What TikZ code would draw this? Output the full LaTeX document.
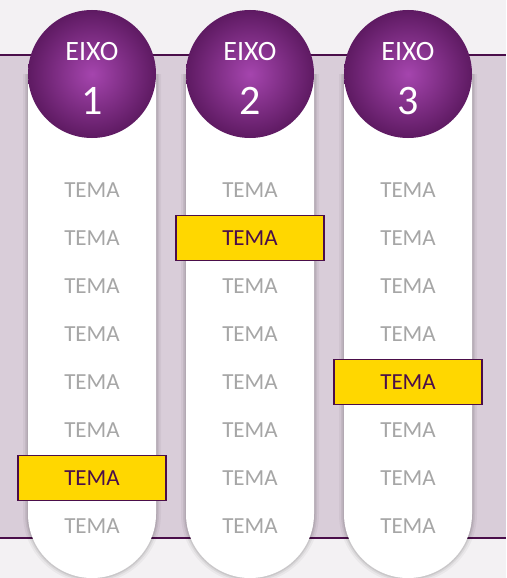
\documentclass[tikz,border=0pt]{standalone}
\usepackage{fontspec}
\setmainfont{Carlito}
\definecolor{bgc}{HTML}{F3F1F3}
\definecolor{band}{HTML}{D9CDD9}
\definecolor{dpurple}{HTML}{4A0E4A}
\definecolor{lpurple}{HTML}{A545AE}
\definecolor{mpurple}{HTML}{5E1A62}
\definecolor{tgray}{HTML}{A6A6A6}
\definecolor{gold}{HTML}{FFD700}
\begin{document}
\begin{tikzpicture}[x=1pt,y=-1pt,
  tema/.style={text=tgray,font=\fontsize{23}{23}\selectfont,inner sep=0pt},
  hl/.style={draw=dpurple,line width=1.8pt,fill=gold,minimum width=148pt,minimum height=45pt,inner sep=0pt,text=dpurple,font=\fontsize{23}{23}\selectfont},
  head/.style={circle,minimum size=128pt,inner sep=0pt,shading=radial,inner color=lpurple,outer color=mpurple,text=white,align=center}]
\useasboundingbox (0,0) rectangle (506,578);
\fill[bgc] (0,0) rectangle (506,578);
\fill[band] (0,55) rectangle (506,538);
\draw[dpurple,line width=1.5pt] (0,55) -- (506,55);
\draw[dpurple,line width=1.5pt] (0,538) -- (506,538);
\foreach \cx/\n in {92/1,250/2,408/3}{
  \foreach \s/\o in {5/0.04,3/0.06,1.5/0.08}{
    \fill[black,opacity=\o] (\cx-64-\s,74) -- (\cx-64-\s,514) arc[start angle=180,end angle=0,radius=64+\s] -- (\cx+64+\s,74) -- cycle;
  }
  \fill[white] (\cx-64,74) -- (\cx-64,514) arc[start angle=180,end angle=0,radius=64] -- (\cx+64,74) -- cycle;
  \node[head] (h\n) at (\cx,74) {};
  \node[text=white,font=\fontsize{28}{28}\selectfont,inner sep=0pt] (e\n) at (\cx,52) {EIXO};
  \node[text=white,font=\fontsize{42}{42}\selectfont,inner sep=0pt] (d\n) at (\cx,101) {\n};
}
\foreach \cx/\c/\hr in {92/a/7,250/b/2,408/c/5}{
  \foreach \r [evaluate=\r as \yy using {190+48*(\r-1)}] in {1,...,8}{
    \ifnum\r=\hr
      \node[hl] (t\c\r) at (\cx,\yy) {TEMA};
    \else
      \node[tema] (t\c\r) at (\cx,\yy) {TEMA};
    \fi
  }
}
\end{tikzpicture}
\end{document}
